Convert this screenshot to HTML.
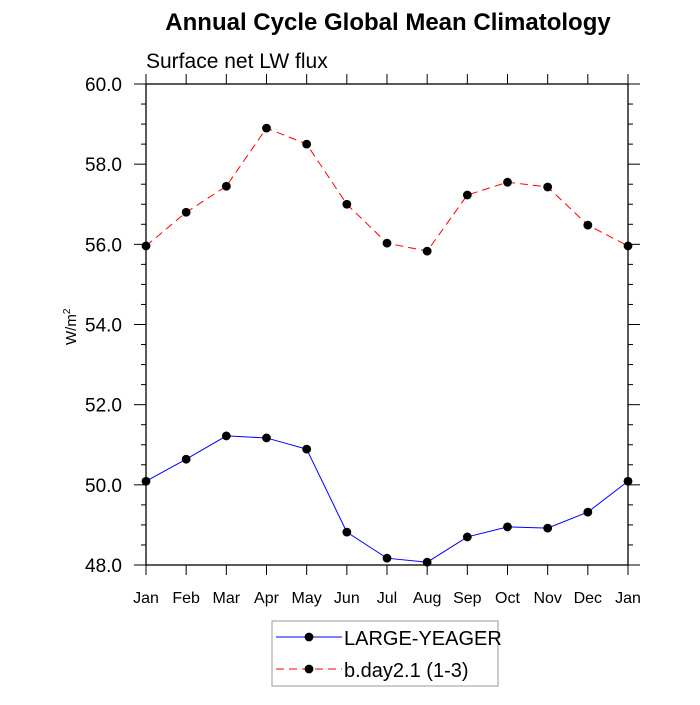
<!DOCTYPE html>
<html><head><meta charset="utf-8"><style>
body{margin:0;background:#fff}
svg{font-family:"Liberation Sans",sans-serif}
</style></head><body>
<svg id="c" width="700" height="700" xmlns="http://www.w3.org/2000/svg"></svg>
<script>
const months=["Jan","Feb","Mar","Apr","May","Jun","Jul","Aug","Sep","Oct","Nov","Dec","Jan"];
const largeYeager=[50.09,50.64,51.22,51.17,50.89,48.82,48.17,48.07,48.70,48.95,48.92,49.32,50.09];
const bday=[55.96,56.80,57.45,58.9,58.5,57.0,56.03,55.83,57.23,57.55,57.43,56.48,55.96];
const yTicks=[48,50,52,54,56,58,60];
const yTickLabels=["48.0","50.0","52.0","54.0","56.0","58.0","60.0"];
const NS="http://www.w3.org/2000/svg";
const svg=document.getElementById("c");
const L=146,R=628,T=84,B=565,ymin=48,ymax=60;
const xs=i=>L+(R-L)*i/(months.length-1);
const ys=v=>B-(B-T)*(v-ymin)/(ymax-ymin);
function mk(tag,attrs,name,parent){const e=document.createElementNS(NS,tag);for(const k in attrs)e.setAttribute(k,attrs[k]);


(parent||svg).appendChild(e);return e;}
function txt(x,y,s,attrs,name){const e=mk('text',Object.assign({x:x,y:y},attrs),name);e.textContent=s;return e;}
txt(388,30,"Annual Cycle Global Mean Climatology",{"text-anchor":"middle","font-size":"24","font-weight":"bold"},"chart-title");
txt(146,68,"Surface net LW flux",{"font-size":"21"},"subtitle");
mk('rect',{x:L,y:T,width:R-L,height:B-T,fill:"none",stroke:"#000","stroke-width":"1.3"},"plot-frame");
for(let v=48;v<=60.001;v+=0.5){const major=Math.abs(v-Math.round(v/2)*2)<1e-6;const len=major?12:5;const y=ys(v);
mk('line',{x1:L-len,x2:L,y1:y,y2:y,stroke:"#000","stroke-width":"1"},"y-tick-left");
mk('line',{x1:R,x2:R+len,y1:y,y2:y,stroke:"#000","stroke-width":"1"},"y-tick-right");}
yTicks.forEach((v,i)=>txt(L-24,ys(v)+7,yTickLabels[i],{"text-anchor":"end","font-size":"19"},"y-tick-label"));
months.forEach((m,i)=>{const x=xs(i);
mk('line',{x1:x,x2:x,y1:B,y2:B+10,stroke:"#000","stroke-width":"1"},"x-tick-bottom");
mk('line',{x1:x,x2:x,y1:T-10,y2:T,stroke:"#000","stroke-width":"1"},"x-tick-top");
txt(x,B+38,m,{"text-anchor":"middle","font-size":"16"},"x-tick-label");});
const yl=txt(0,0,"W/m",{"font-size":"15",transform:"translate(76,345) rotate(-90)"},"y-axis-title");
const sup=document.createElementNS(NS,'tspan');sup.setAttribute('font-size','10');sup.setAttribute('dy','-6');sup.textContent='2';yl.appendChild(sup);
function series(data,color,dash,name){
mk('polyline',{points:data.map((v,i)=>xs(i)+","+ys(v)).join(" "),fill:"none",stroke:color,"stroke-width":"1","stroke-dasharray":dash},name+"-line");
data.forEach((v,i)=>mk('circle',{cx:xs(i),cy:ys(v),r:4.4,fill:"#000"},name+"-point"));}
series(bday,"#f00","8,5","bday");
series(largeYeager,"#00f","none","large-yeager");
const lg=mk('g',{},"legend");
mk('rect',{x:272,y:621,width:226,height:65,fill:"#fff",stroke:"#999","stroke-width":"1"},"legend-box",lg);
mk('line',{x1:276,x2:342,y1:637,y2:637,stroke:"#00f","stroke-width":"1"},"legend-line-large-yeager",lg);
mk('circle',{cx:309,cy:637,r:4.4,fill:"#000"},"legend-marker-large-yeager",lg);
mk('line',{x1:276,x2:342,y1:669,y2:669,stroke:"#f00","stroke-width":"1","stroke-dasharray":"8,5"},"legend-line-bday",lg);
mk('circle',{cx:309,cy:669,r:4.4,fill:"#000"},"legend-marker-bday",lg);
txt(344,645,"LARGE-YEAGER",{"font-size":"20"},"legend-label-large-yeager");
txt(344,677,"b.day2.1 (1-3)",{"font-size":"20"},"legend-label-bday");
</script>
</body></html>
